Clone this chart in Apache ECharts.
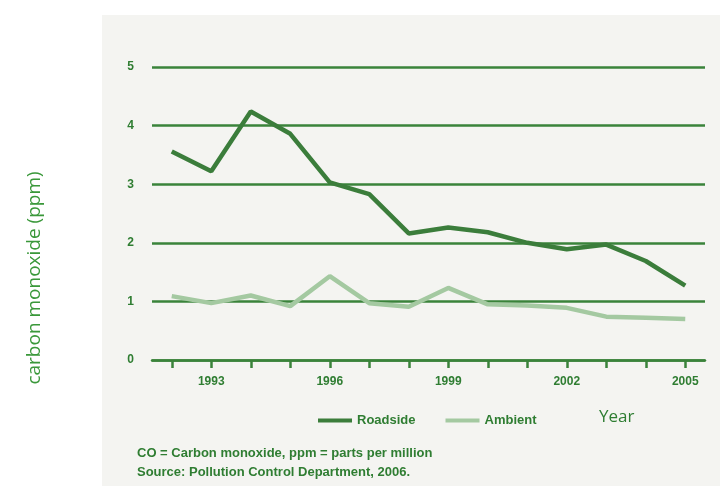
<!DOCTYPE html>
<html>
<head>
<meta charset="utf-8">
<script src="https://cdn.jsdelivr.net/npm/echarts@6/dist/echarts.min.js"></script>
<style>
  html, body { margin: 0; padding: 0; background: #ffffff; }
  #chart { width: 720px; height: 486px; }
</style>
</head>
<body>
<div id="chart"></div>
<script>
// CO readings (ppm)
var years = ['1992', '1993', '1994', '1995', '1996', '1997', '1998', '1999', '2000', '2001', '2002', '2003', '2004', '2005']
var roadside = [3.56, 3.22, 4.24, 3.86, 3.03, 2.83, 2.16, 2.26, 2.18, 2.0, 1.89, 1.97, 1.69, 1.27]
var ambient = [1.09, 0.97, 1.1, 0.92, 1.43, 0.97, 0.91, 1.23, 0.95, 0.93, 0.89, 0.74, 0.72, 0.7]
var labelYears = ['1993', '1996', '1999', '2002', '2005']

var green = '#3a833a'
var labelFont = '"Liberation Sans", Arial, sans-serif'

var chart = echarts.init(document.getElementById('chart'))
chart.setOption({
  animation: false,
  graphic: [
    {
      type: 'rect',
      z: -100,
      shape: { x: 102, y: 15, width: 618, height: 471 },
      style: { fill: '#f4f4f1' }
    },
    {
      type: 'text',
      left: 599,
      top: 409,
      style: { text: 'Year', fill: '#2e7d32', font: '17px "Open Sans", sans-serif' }
    },
    {
      type: 'text',
      x: 35,
      y: 278,
      rotation: Math.PI / 2,
      style: {
        text: 'carbon monoxide (ppm)',
        fill: '#3a983a',
        font: '19px "Open Sans", sans-serif',
        align: 'center',
        verticalAlign: 'middle'
      }
    }
  ],
  title: {
    text: 'CO = Carbon monoxide, ppm = parts per million\nSource: Pollution Control Department, 2006.',
    left: 132,
    top: 439,
    textStyle: {
      color: '#2f7d32',
      fontFamily: labelFont,
      fontWeight: 'bold',
      fontSize: 13,
      lineHeight: 19
    }
  },
  legend: {
    left: 313,
    top: 409,
    itemWidth: 34,
    itemHeight: 4,
    itemGap: 30,
    icon: 'rect',
    textStyle: { color: '#2f7d32', fontFamily: labelFont, fontWeight: 'bold', fontSize: 13 },
    data: ['Roadside', 'Ambient']
  },
  grid: { left: 152, right: 15, top: 67, bottom: 126 },
  xAxis: {
    type: 'category',
    data: years,
    boundaryGap: true,
    axisLine: { show: true, lineStyle: { color: green, width: 2.5 } },
    axisTick: {
      show: true,
      alignWithLabel: true,
      interval: 0,
      inside: false,
      length: 8,
      lineStyle: { color: green, width: 2.5 }
    },
    axisLabel: {
      interval: function (i, v) { return labelYears.indexOf(v) >= 0 },
      color: '#2f7d32',
      fontFamily: labelFont,
      fontWeight: 'bold',
      fontSize: 12,
      margin: 16
    }
  },
  yAxis: {
    type: 'value',
    min: 0,
    max: 5,
    interval: 1,
    axisLine: { show: false },
    axisTick: { show: false },
    axisLabel: { color: '#2f7d32', fontFamily: labelFont, fontWeight: 'bold', fontSize: 12, margin: 18 },
    splitLine: { lineStyle: { color: green, width: 2.5 } }
  },
  series: [
    {
      name: 'Roadside',
      type: 'line',
      data: roadside,
      symbol: 'none',
      itemStyle: { color: '#3b7d3b' },
      lineStyle: { color: '#3b7d3b', width: 4.5 },
      z: 4
    },
    {
      name: 'Ambient',
      type: 'line',
      data: ambient,
      symbol: 'none',
      itemStyle: { color: '#a4c9a1' },
      lineStyle: { color: '#a4c9a1', width: 4.5 },
      z: 3
    }
  ]
})
</script>
</body>
</html>
